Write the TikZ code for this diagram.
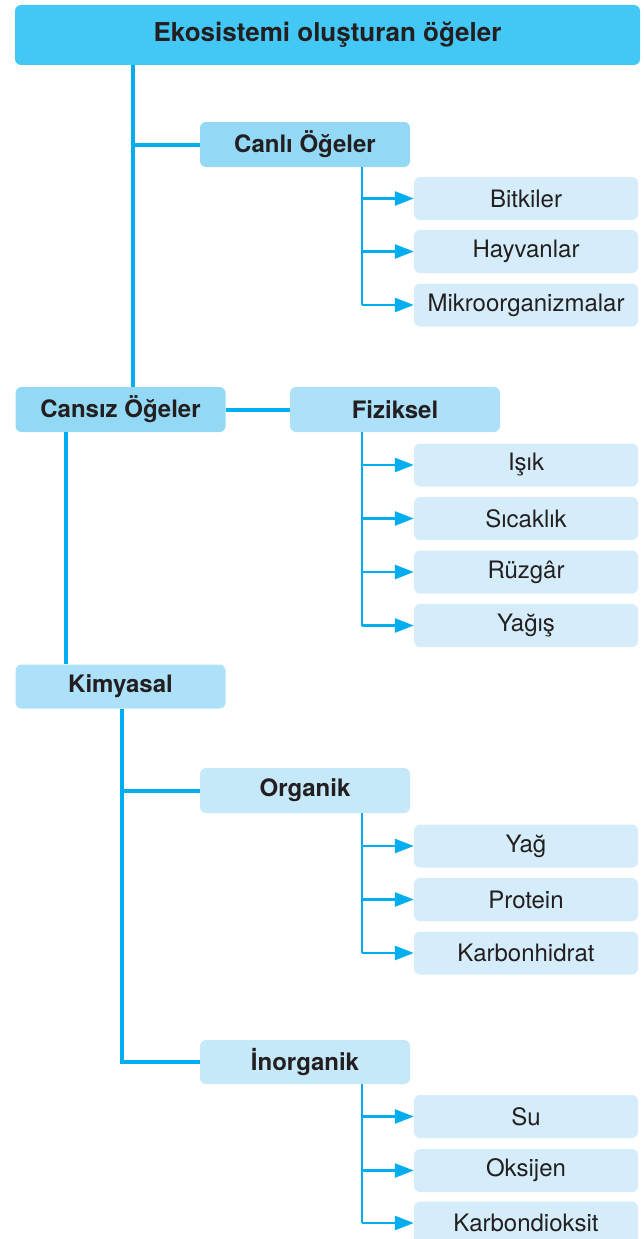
\documentclass[tikz,border=0pt]{standalone}
\usepackage{fontspec}
\setmainfont{TeX Gyre Heros}
\usetikzlibrary{arrows.meta}
\definecolor{linecyan}{HTML}{00AEEF}
\definecolor{titlefill}{HTML}{43C7F4}
\definecolor{headfill}{HTML}{93D9F6}
\definecolor{subfill}{HTML}{ACE1F9}
\definecolor{chemfill}{HTML}{C6E9F9}
\definecolor{leaffill}{HTML}{D5EDFA}
\definecolor{inktext}{HTML}{231F20}
\tikzset{
  box/.style={rounded corners=6pt, inner sep=0pt, text=inktext, anchor=center},
  titlebox/.style={box, fill=titlefill, minimum width=625pt, minimum height=60pt,
    font=\fontsize{26}{30}\selectfont\bfseries},
  headbox/.style={box, fill=headfill, minimum width=210pt, minimum height=45pt,
    font=\fontsize{24}{28}\selectfont\bfseries},
  subbox/.style={headbox, fill=subfill},
  chembox/.style={headbox, fill=chemfill},
  leafbox/.style={box, fill=leaffill, minimum width=224pt, minimum height=43pt,
    font=\fontsize{24}{28}\selectfont},
  trunk/.style={draw=linecyan, line width=4pt},
  twig/.style={draw=linecyan, line width=2.6pt, -{Triangle[length=19pt,width=14pt]}},
  twigline/.style={draw=linecyan, line width=2.6pt}
}
\begin{document}
\begin{tikzpicture}[x=1pt,y=-1pt]
\useasboundingbox (0,0) rectangle (644,1239);

% main title
\node[titlebox] (top) at (327.5,35) {Ekosistemi oluşturan öğeler};

% living elements
\node[headbox] (canli) at (305,144.5) {Canlı Öğeler};
\node[leafbox] (bitki) at (526,198.5) {Bitkiler};
\node[leafbox] (hayvan) at (526,251.5) {Hayvanlar};
\node[leafbox] (mikro) at (526,305) {Mikroorganizmalar};

% non-living elements
\node[headbox] (cansiz) at (120.5,409.5) {Cansız Öğeler};
\node[subbox] (fizik) at (395,409.5) {Fiziksel};
\node[leafbox] (isik) at (526,465) {Işık};
\node[leafbox] (sicak) at (526,518.5) {Sıcaklık};
\node[leafbox] (ruzgar) at (526,572) {Rüzgâr};
\node[leafbox] (yagis) at (526,625.5) {Yağış};

\node[subbox, minimum height=44pt] (kimya) at (120.5,686.5) {Kimyasal};
\node[chembox] (organik) at (305,790.5) {Organik};
\node[leafbox] (yag) at (526,846) {Yağ};
\node[leafbox] (protein) at (526,899.5) {Protein};
\node[leafbox] (karbon) at (526,953) {Karbonhidrat};

\node[chembox, minimum height=44pt] (inorganik) at (305,1062) {İnorganik};
\node[leafbox] (su) at (526,1116.5) {Su};
\node[leafbox] (oksijen) at (526,1170.5) {Oksijen};
\node[leafbox] (co2) at (526,1223) {Karbondioksit};

% spines
\coordinate (s0) at (133,0);
\coordinate (s1) at (66,0);
\coordinate (s2) at (122,0);
\coordinate (s3) at (362,0);

% trunk connectors
\draw[trunk] (top.south -| s0) -- (cansiz.north -| s0);
\draw[trunk] (canli.west -| s0) -- (canli.west);
\draw[trunk] (cansiz.east) -- (fizik.west);
\draw[trunk] (cansiz.south -| s1) -- (kimya.north -| s1);
\draw[trunk] (kimya.south -| s2) |- (inorganik.west);
\draw[trunk] (organik.west -| s2) -- (organik.west);

% leaf connectors
\foreach \parent/\last/\others in {canli/mikro/{bitki,hayvan},
                                    fizik/yagis/{isik,sicak,ruzgar},
                                    organik/karbon/{yag,protein},
                                    inorganik/co2/{su,oksijen}}{
  \draw[twigline] (\parent.south -| s3) |- (\last.west -| s3);
  \draw[twig] (\last.west -| s3) -- (\last.west);
  \foreach \leaf in \others {
    \draw[twig] (\leaf.west -| s3) -- (\leaf.west);
  }
}
\end{tikzpicture}
\end{document}
